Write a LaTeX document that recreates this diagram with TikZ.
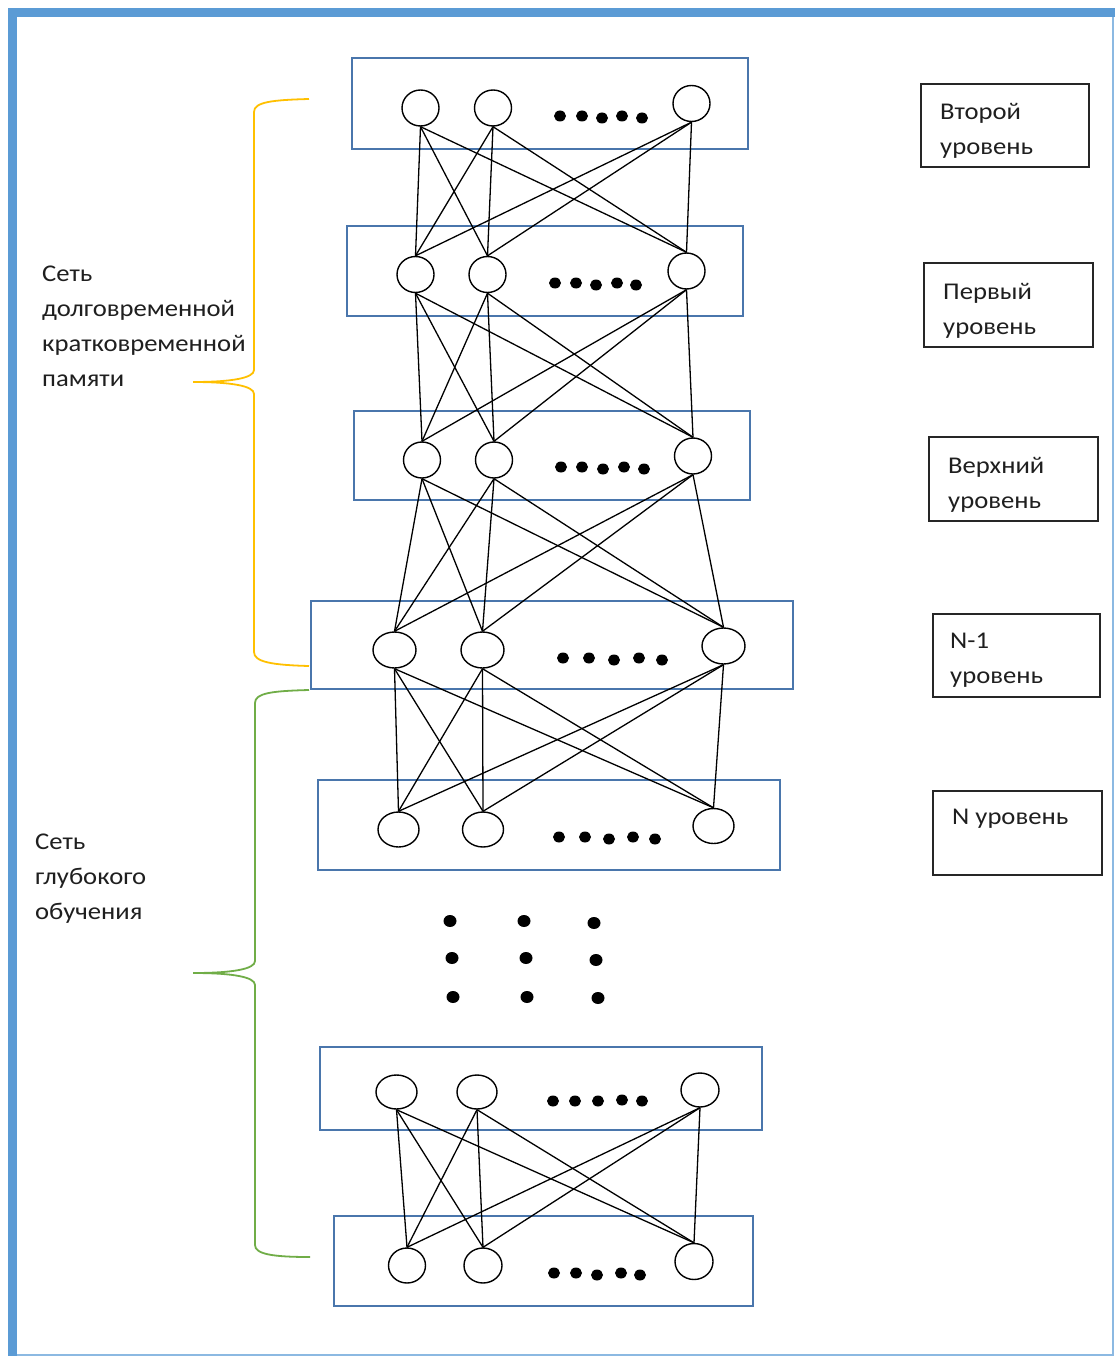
\documentclass[tikz,border=0pt]{standalone}
\usepackage{fontspec}
\setmainfont{Carlito}
\newfontfamily\lblfont{Carlito}[FakeStretch=1.11]
\usetikzlibrary{shapes.geometric}
\definecolor{framecol}{HTML}{5B9BD5}
\definecolor{boxcol}{HTML}{4A76AC}
\definecolor{bryellow}{HTML}{FFC000}
\definecolor{brgreen}{HTML}{70AD47}
\tikzset{
  neuron/.style={draw=black, line width=1.4pt, ellipse, inner sep=0pt, fill=white},
  layerbox/.style={draw=boxcol, line width=1.5pt},
  lblbox/.style={draw=black!85, line width=1.6pt},
  edge/.style={draw=black, line width=1.3pt},
  dotmark/.style={fill=black},
  lbltext/.style={inner sep=0pt, anchor=north west, align=left, font=\lblfont\fontsize{24}{35}\selectfont, text=black!88},
}
\begin{document}
\begin{tikzpicture}[x=1pt, y=-1pt]
\useasboundingbox (0,0) rectangle (1115,1356);
% frame
\fill[white] (0,0) rectangle (1115,1356);
\fill[framecol] (8,8) rectangle (1115,17);
\fill[framecol] (8,8) rectangle (17,1356);
\draw[framecol!70, line width=1.5pt] (1113,17) -- (1113,1356);
\draw[framecol!70, line width=1.5pt] (17,1355) -- (1113,1355);

% layer boxes
\draw[layerbox] (352,58) rectangle (748,149);
\draw[layerbox] (347,226) rectangle (743,316);
\draw[layerbox] (354,411) rectangle (750,500);
\draw[layerbox] (311,601) rectangle (793,689);
\draw[layerbox] (318,780) rectangle (780,870);
\draw[layerbox] (320,1047) rectangle (762,1130);
\draw[layerbox] (334,1216) rectangle (753,1306);

% neurons
\node[neuron, minimum width=37pt, minimum height=36pt] (a1) at (420.5,108) {};
\node[neuron, minimum width=37pt, minimum height=36pt] (a2) at (493,108) {};
\node[neuron, minimum width=37pt, minimum height=36pt] (a3) at (691.5,103.5) {};
\node[neuron, minimum width=37pt, minimum height=36pt] (b1) at (415.5,274.5) {};
\node[neuron, minimum width=37pt, minimum height=36pt] (b2) at (487.5,274.5) {};
\node[neuron, minimum width=37pt, minimum height=36pt] (b3) at (686.5,271) {};
\node[neuron, minimum width=37pt, minimum height=36pt] (c1) at (422,460) {};
\node[neuron, minimum width=37pt, minimum height=36pt] (c2) at (494,460) {};
\node[neuron, minimum width=37pt, minimum height=36pt] (c3) at (693,456) {};
\node[neuron, minimum width=43pt, minimum height=36pt] (d1) at (394.5,650) {};
\node[neuron, minimum width=43pt, minimum height=36pt] (d2) at (482.5,650) {};
\node[neuron, minimum width=43pt, minimum height=36pt] (d3) at (723.5,646) {};
\node[neuron, minimum width=41pt, minimum height=35pt] (e1) at (398.5,829.5) {};
\node[neuron, minimum width=41pt, minimum height=35pt] (e2) at (483,829.5) {};
\node[neuron, minimum width=41pt, minimum height=35pt] (e3) at (713.5,826) {};
\node[neuron, minimum width=41pt, minimum height=34pt] (f1) at (396.5,1092) {};
\node[neuron, minimum width=40pt, minimum height=34pt] (f2) at (477,1092) {};
\node[neuron, minimum width=38pt, minimum height=34pt] (f3) at (700,1090) {};
\node[neuron, minimum width=37pt, minimum height=35pt] (g1) at (407,1265.5) {};
\node[neuron, minimum width=38pt, minimum height=35pt] (g2) at (483,1265.5) {};
\node[neuron, minimum width=38pt, minimum height=36pt] (g3) at (694,1261.5) {};

% connections
\foreach \u/\l in {a/b, b/c, c/d, d/e, f/g}{
  \foreach \i in {1,2,3}{
    \foreach \j in {1,2,3}{
      \draw[edge] (\u\i.south) -- (\l\j.north);
    }
  }
}

% dots in rows
\foreach \x/\y in {560/116, 582/116, 602/118, 622/116, 642/118,
                   555/283, 576/283, 596/285, 617/283, 636/285,
                   561/467, 582/467, 603/469, 624/467, 644/469,
                   563/658, 589/658, 614/660, 639/658, 662/660,
                   559/837, 585/837, 609/839, 633/837, 655/839,
                   553/1101, 575/1101, 598/1101, 622/1100, 642/1101,
                   554/1273, 576/1273, 597/1275, 621/1273, 640/1275}{
  \fill[dotmark] (\x,\y) ellipse [x radius=6, y radius=5.5];
}
% vertical dots grid
\foreach \x/\y in {450/921, 452/958, 453/997, 524/921, 526/958, 527/997, 594/923, 596/960, 598/998}{
  \fill[dotmark] (\x,\y) ellipse [x radius=6.5, y radius=6];
}

% braces
\draw[bryellow, line width=1.8pt] (309,99) .. controls (272,100) and (254,102) .. (254,112) -- (254,370) .. controls (254,378) and (232,382) .. (193,382) .. controls (232,382) and (254,386) .. (254,394) -- (254,652) .. controls (254,662) and (272,665) .. (309,666);
\draw[brgreen, line width=1.8pt] (309,690) .. controls (272,691) and (255,693) .. (255,703) -- (255,961) .. controls (255,969) and (233,973) .. (193,973) .. controls (233,973) and (255,977) .. (255,985) -- (255,1245) .. controls (255,1254) and (272,1257) .. (310,1257);

% left labels
\node[lbltext] (lstm) at (42,266) {Сеть\\долговременной\\кратковременной\\памяти};
\node[lbltext] (deep) at (35,834) {Сеть\\глубокого\\обучения};

% right label boxes
\draw[lblbox] (921,84) rectangle (1089,167);
\draw[lblbox] (924,263) rectangle (1093,347);
\draw[lblbox] (929,437) rectangle (1098,521);
\draw[lblbox] (933,614) rectangle (1100,697);
\draw[lblbox] (933,791) rectangle (1102,875);
\node[lbltext] (t1) at (940,103) {Второй\\уровень};
\node[lbltext] (t2) at (943,283) {Первый\\уровень};
\node[lbltext] (t3) at (948,457) {Верхний\\уровень};
\node[lbltext] (t4) at (950,633) {N-1\\уровень};
\node[lbltext] (t5) at (952,809) {N уровень};
\end{tikzpicture}
\end{document}
